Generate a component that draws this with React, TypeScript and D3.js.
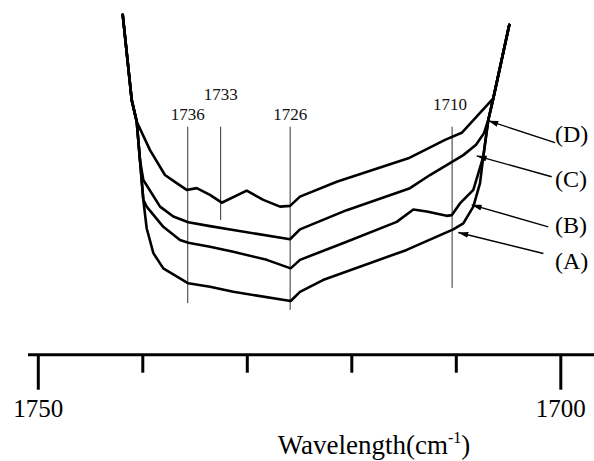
import React from "react";
import * as d3 from "d3";

// wavenumber (cm-1), relative signal (0 = axis line)
const curveA: [number, number][] = [
  [1741.92, 95.8], [1741.06, 71.8], [1740.58, 65.7], [1740.27, 54.9], [1739.95, 43.7],
  [1739.63, 35.7], [1738.99, 28.7], [1738.04, 24.4], [1735.65, 20.2], [1733.57, 19.2],
  [1731.34, 17.8], [1725.85, 15.2], [1724.96, 17.8], [1722.76, 21.1], [1714.75, 29.6],
  [1710.29, 35.4], [1709.33, 37.1], [1708.37, 41.8], [1707.73, 48.4], [1707.42, 55.8],
  [1706.94, 66.2], [1706.46, 72.3], [1704.93, 93.0],
];
const curveB: [number, number][] = [
  [1741.92, 95.8], [1741.06, 71.8], [1740.58, 65.7], [1740.27, 54.9], [1739.95, 43.7],
  [1739.63, 41.8], [1738.04, 36.1], [1736.44, 32.4], [1735.65, 31.6], [1733.57, 30.5],
  [1731.34, 29.1], [1728.14, 26.8], [1725.85, 24.4], [1724.96, 26.8], [1720.49, 31.9],
  [1715.7, 37.5], [1714.11, 41.0], [1712.83, 40.4], [1710.92, 39.2], [1710.44, 39.4],
  [1709.65, 42.7], [1708.37, 46.5], [1707.42, 55.8], [1706.94, 66.2], [1706.46, 72.3],
  [1704.93, 93.0],
];
const curveC: [number, number][] = [
  [1741.92, 95.8], [1741.06, 71.8], [1740.58, 65.7], [1740.27, 54.9], [1739.95, 49.3],
  [1738.35, 41.8], [1737.08, 39.0], [1735.65, 37.4], [1733.57, 36.3], [1731.34, 35.2],
  [1725.91, 32.6], [1724.96, 35.4], [1720.49, 40.8], [1714.43, 47.0], [1712.52, 50.7],
  [1709.33, 56.3], [1708.11, 59.2], [1707.35, 62.5], [1706.94, 66.2], [1706.46, 72.3],
  [1704.93, 93.0],
];
const curveD: [number, number][] = [
  [1741.92, 95.8], [1741.06, 71.8], [1740.58, 65.7], [1739.31, 57.7], [1737.88, 50.7],
  [1736.76, 48.4], [1735.8, 46.5], [1734.84, 47.0], [1733.57, 45.1], [1732.45, 42.9],
  [1730.06, 46.3], [1728.47, 43.7], [1726.87, 41.8], [1725.91, 42.0], [1724.96, 44.6],
  [1721.44, 48.8], [1714.59, 55.4], [1711.08, 60.6], [1709.48, 62.6], [1706.46, 72.3],
  [1704.93, 93.0],
];

const markerPos = [1735.7, 1732.55, 1725.9, 1710.4];
const markerLabels = ["1736", "1733", "1726", "1710"];
const markerBottom = [14.6, 38.0, 12.7, 18.9];
const markerTop = 64.3;
const markerLabelY = [66.2, 71.8, 66.2, 69.0];

const seriesLabels = ["(A)", "(B)", "(C)", "(D)"];
const arrowTip: [number, number][] = [[1709.81, 34.5], [1708.53, 42.3], [1708.05, 56.1], [1706.94, 66.0]];
const arrowTail: [number, number][] = [[1701.67, 28.6], [1701.2, 36.1], [1700.87, 50.2], [1700.56, 59.8]];
const labelY = [24.2, 34.5, 47.2, 60.0];

const ticks = [1750, 1740, 1730, 1720, 1710, 1700];
const tickLabels = ["1750", "1700"];

const font = "'Liberation Serif', 'DejaVu Serif', serif";

export default function App() {
  const W = 594, H = 461;
  const x = d3.scaleLinear().domain([1750, 1700]).range([38.3, 560.8]);
  const y = d3.scaleLinear().domain([0, 100]).range([355, 0]);
  const line = d3.line<[number, number]>().x(d => x(d[0])).y(d => y(d[1]));
  const axisY = 354.7;

  return (
    <svg width={W} height={H} style={{ position: "absolute", left: 0, top: 0, background: "#fff", fontFamily: font }}>
      <defs>
        <marker id="ah" viewBox="0 0 10 6" refX="10" refY="3" markerWidth="10" markerHeight="6"
          markerUnits="userSpaceOnUse" orient="auto">
          <path d="M0,0 L10,3 L0,6 Z" fill="#000" />
        </marker>
      </defs>

      {markerPos.map((m, i) => (
        <g key={i}>
          <line x1={x(m)} x2={x(m)} y1={y(markerTop)} y2={y(markerBottom[i])} stroke="#333" strokeWidth={1} />
          <text x={x(m) - (i === 3 ? 2 : 0)} y={y(markerLabelY[i])} textAnchor="middle"
            style={{ fontFamily: font, fontSize: 17 }} fill="#111">{markerLabels[i]}</text>
        </g>
      ))}

      {[curveA, curveB, curveC, curveD].map((c, i) => (
        <path key={i} d={line(c) ?? ""} fill="none" stroke="#000" strokeWidth={2.6}
          strokeLinejoin="round" strokeLinecap="round" />
      ))}

      {seriesLabels.map((s, i) => (
        <g key={s}>
          <line x1={x(arrowTail[i][0])} y1={y(arrowTail[i][1])} x2={x(arrowTip[i][0])} y2={y(arrowTip[i][1])}
            stroke="#000" strokeWidth={1.4} markerEnd="url(#ah)" />
          <text x={555} y={y(labelY[i])} style={{ fontFamily: font, fontSize: 24 }} fill="#000">{s}</text>
        </g>
      ))}

      <line x1={28} x2={594} y1={axisY} y2={axisY} stroke="#000" strokeWidth={3} />
      {ticks.map(t => {
        const major = t === 1750 || t === 1700;
        return (
          <line key={t} x1={x(t)} x2={x(t)} y1={axisY} y2={axisY + (major ? 35 : 18)} stroke="#000" strokeWidth={3} />
        );
      })}
      {tickLabels.map(t => (
        <text key={t} x={x(+t)} y={417} textAnchor="middle" style={{ fontFamily: font, fontSize: 25 }} fill="#000">{t}</text>
      ))}
      <text x={374} y={454} textAnchor="middle" style={{ fontFamily: font, fontSize: 27 }} fill="#000">
        Wavelength(cm<tspan style={{ fontSize: 16 }} dy={-11}>-1</tspan><tspan dy={11}>)</tspan>
      </text>
    </svg>
  );
}
